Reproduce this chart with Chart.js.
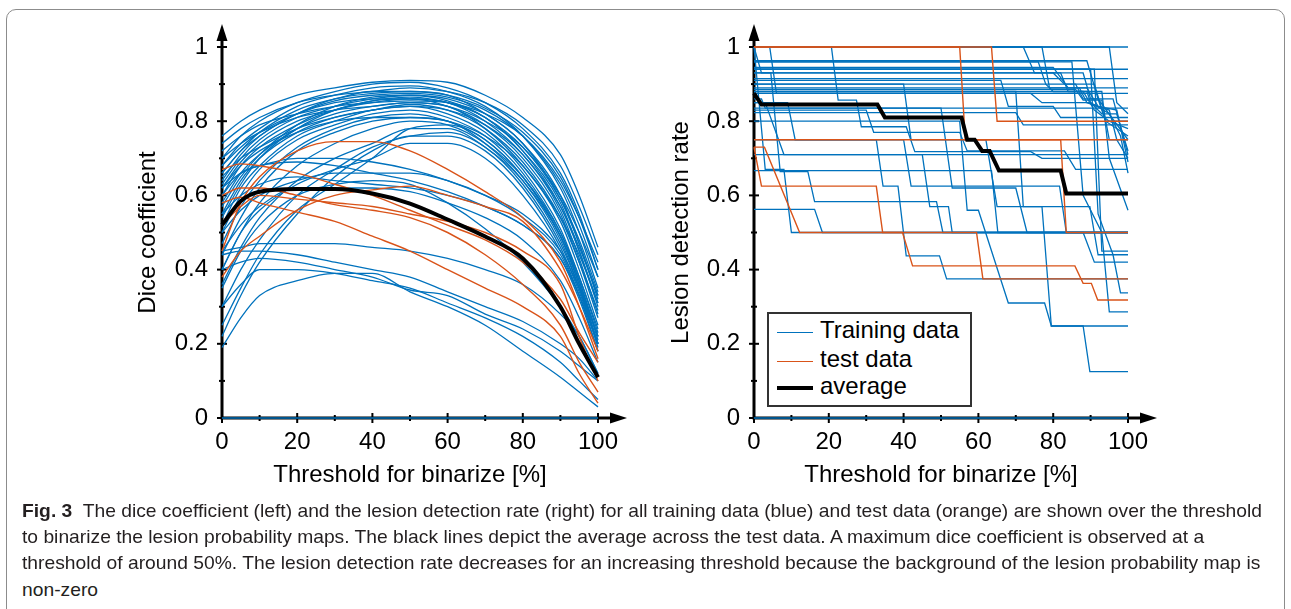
<!DOCTYPE html>
<html>
<head>
<meta charset="utf-8">
<script src="https://cdn.jsdelivr.net/npm/chart.js"></script>
<style>
body{margin:0;background:#fff;width:1291px;height:609px;overflow:hidden;position:relative;font-family:"Liberation Sans",Arial,sans-serif}
#frame{position:absolute;left:6px;top:9px;width:1277px;height:640px;border:1px solid #8c8c8c;border-radius:10px}
canvas{position:absolute;top:0}
#dice{left:110px}
#det{left:640px}
#legend{position:absolute;left:767px;top:312px;width:201px;height:91px;border:2px solid #333;background:#fff}
#legend .row{position:absolute;left:8px;height:28px;font-size:24px;line-height:28px;white-space:nowrap}
#legend .sw{position:absolute;left:0;width:36px}
#legend .tx{position:absolute;left:43px;top:-2px}
.cap{position:absolute;left:22px;white-space:nowrap;font-family:"Liberation Sans",Arial,sans-serif;font-size:19px;line-height:24px;color:#231f20;transform-origin:0 50%;display:inline-block}
</style>
</head>
<body>
<div id="frame"></div>
<canvas id="dice" width="540" height="500"></canvas>
<canvas id="det" width="540" height="500"></canvas>
<div id="legend">
  <div class="row" style="top:4px"><span class="sw" style="top:14px;border-top:1.5px solid #0072BD"></span><span class="tx">Training data</span></div>
  <div class="row" style="top:33px"><span class="sw" style="top:14px;border-top:1.5px solid #D95319"></span><span class="tx">test data</span></div>
  <div class="row" style="top:60px"><span class="sw" style="top:12px;border-top:4px solid #000"></span><span class="tx">average</span></div>
</div>
<div class="cap" id="cap1" style="top:499px"><b>Fig. 3</b>&nbsp; The dice coefficient (left) and the lesion detection rate (right) for all training data (blue) and test data (orange) are shown over the threshold</div>
<div class="cap" style="top:525px">to binarize the lesion probability maps. The black lines depict the average across the test data. A maximum dice coefficient is observed at a</div>
<div class="cap" style="top:551px">threshold of around 50%. The lesion detection rate decreases for an increasing threshold because the background of the lesion probability map is</div>
<div class="cap" style="top:578px">non-zero</div>
<script>
// thresholds (%) for the dice curves
const diceX = [0, 5, 10, 20, 30, 40, 50, 60, 70, 80, 90, 95, 100];

// dice coefficient, training data (blue)
const diceTrain = [
  [.76,.80,.83,.87,.89,.905,.91,.905,.87,.81,.71,.60,.46],
  [.70,.76,.80,.85,.88,.90,.905,.89,.85,.78,.66,.55,.40],
  [.68,.74,.78,.84,.87,.89,.895,.88,.84,.76,.62,.50,.35],
  [.66,.72,.77,.83,.86,.88,.88,.87,.82,.74,.60,.47,.32],
  [.63,.70,.75,.81,.84,.86,.87,.855,.81,.72,.58,.45,.30],
  [.62,.69,.74,.80,.83,.855,.86,.85,.80,.71,.56,.43,.28],
  [.60,.68,.73,.79,.83,.85,.86,.84,.79,.70,.55,.42,.27],
  [.58,.66,.71,.78,.82,.84,.85,.84,.78,.68,.53,.40,.25],
  [.65,.70,.73,.78,.81,.83,.84,.83,.79,.71,.57,.46,.33],
  [.55,.64,.70,.77,.81,.83,.845,.83,.78,.69,.54,.42,.29],
  [.52,.62,.68,.76,.80,.83,.84,.82,.77,.67,.51,.38,.24],
  [.50,.60,.67,.75,.79,.82,.83,.81,.76,.66,.50,.37,.22],
  [.47,.57,.64,.73,.78,.81,.82,.80,.75,.65,.49,.36,.20],
  [.44,.54,.62,.72,.77,.80,.81,.80,.74,.64,.48,.35,.19],
  [.70,.74,.77,.81,.83,.84,.85,.84,.80,.73,.60,.50,.38],
  [.72,.76,.79,.82,.84,.85,.855,.85,.82,.76,.64,.54,.42],
  [.62,.68,.72,.77,.80,.81,.81,.80,.76,.68,.54,.44,.31],
  [.40,.50,.58,.68,.74,.78,.80,.79,.74,.65,.50,.38,.23],
  [.36,.46,.54,.64,.70,.74,.78,.78,.73,.64,.49,.37,.21],
  [.30,.40,.48,.60,.67,.73,.76,.77,.73,.63,.47,.35,.20],
  [.25,.35,.44,.56,.63,.70,.78,.79,.75,.65,.49,.36,.22],
  [.22,.33,.42,.55,.65,.72,.76,.76,.72,.62,.46,.34,.20],
  [.66,.72,.76,.82,.855,.87,.875,.865,.83,.76,.63,.52,.38],
  [.64,.71,.76,.82,.86,.875,.88,.87,.835,.77,.65,.54,.40],
  [.57,.65,.71,.79,.84,.865,.87,.86,.82,.74,.59,.47,.33],
  [.54,.63,.70,.78,.83,.855,.865,.85,.81,.72,.57,.45,.31],
  [.68,.73,.77,.82,.85,.86,.86,.85,.81,.73,.59,.48,.34],
  [.74,.78,.81,.85,.87,.88,.89,.88,.85,.79,.68,.57,.44],
  [.62,.66,.68,.69,.68,.66,.64,.61,.57,.52,.43,.33,.20],
  [.60,.66,.68,.70,.70,.69,.67,.64,.60,.55,.45,.35,.22],
  [.55,.60,.63,.65,.64,.63,.62,.60,.57,.52,.43,.32,.18],
  [.50,.56,.60,.64,.66,.66,.66,.64,.60,.54,.44,.33,.20],
  [.45,.52,.57,.62,.62,.62,.61,.58,.54,.48,.37,.27,.15],
  [.35,.45,.52,.60,.63,.64,.63,.58,.51,.42,.30,.22,.12],
  [.40,.50,.56,.63,.67,.70,.74,.74,.70,.60,.45,.33,.18],
  [.45,.46,.47,.47,.47,.46,.45,.43,.40,.36,.28,.22,.12],
  [.40,.42,.43,.42,.40,.38,.345,.33,.28,.24,.18,.14,.10],
  [.44,.45,.45,.44,.42,.40,.38,.34,.30,.26,.20,.16,.10],
  [.19,.27,.33,.37,.39,.39,.34,.30,.25,.18,.11,.07,.03],
  [.30,.36,.40,.40,.39,.37,.35,.31,.27,.22,.15,.10,.05],
  [0,0,0,0,0,0,0,0,0,0,0,0,0]
];

// dice coefficient, test data (orange)
const diceTest = [
  [.45,.58,.65,.72,.745,.745,.72,.67,.61,.54,.42,.30,.16],
  [.67,.685,.68,.66,.63,.60,.56,.52,.48,.42,.32,.23,.15],
  [.58,.595,.58,.555,.53,.49,.45,.40,.35,.30,.22,.12,.04],
  [.38,.45,.49,.56,.60,.615,.625,.60,.57,.53,.40,.30,.18],
  [.52,.57,.60,.59,.58,.57,.55,.53,.50,.45,.36,.22,.10],
  [.60,.62,.62,.60,.575,.56,.54,.50,.44,.36,.25,.15,.07]
];

// dice coefficient, average (black)
const diceAvg = [.52,.585,.61,.617,.617,.605,.578,.535,.489,.43,.30,.20,.11];

// lesion detection rate, [threshold, rate] points, training data (blue)
const detTrain = [
  [[0,1],[100,1]],
  [[0,1],[72,1],[75,.93],[88,.93],[90,.86],[96,.86],[100,.71]],
  [[0,1],[2,.93],[80,.93],[83,.9],[91,.9],[94,.8],[100,.8]],
  [[0,1],[4.2,1],[6,.875],[74,.875],[77,.85],[90,.85],[93,.82],[97,.82],[100,.72]],
  [[0,1],[20.7,1],[22.5,.857],[27.4,.857],[28.7,.785],[40.7,.785],[43,.718],[74,.718],[77,.7],[100,.7]],
  [[0,1],[77,1],[79,.89],[87,.89],[89,.85],[95,.83],[97,.75],[100,.7]],
  [[0,1],[95,1],[97,.85],[100,.82]],
  [[0,1],[3,.67],[8,.67],[10,.5],[100,.5]],
  [[0,.963],[89,.963],[92,.86],[100,.75]],
  [[0,.96],[76,.96],[78,.9],[86,.9],[88,.86],[92,.86],[94,.8],[100,.76]],
  [[0,.945],[80,.945],[84,.89],[89,.89],[92,.84],[97,.83],[100,.69]],
  [[0,.94],[100,.94]],
  [[0,.94],[91,.94],[93,.45],[100,.45]],
  [[0,.93],[82,.93],[84,.88],[89,.88],[90,.85],[95,.82],[98,.76],[100,.66]],
  [[0,.915],[100,.915]],
  [[0,.91],[66,.91],[68,.84],[80,.84],[82,.81],[100,.81]],
  [[0,.9],[78,.9],[80,.88],[88,.88],[91,.83],[95,.8],[100,.78]],
  [[0,.89],[100,.89]],
  [[0,.886],[86,.886],[88,.857],[93,.857],[95,.75],[100,.75]],
  [[0,.88],[93,.88],[95,.7],[100,.56]],
  [[0,.875],[100,.875]],
  [[0,.86],[2,.86],[3,.835],[100,.835]],
  [[0,.823],[70,.823],[72,.79],[100,.79]],
  [[0,.83],[30,.83],[32,.77],[55,.77],[57,.72],[83,.72],[86,.67],[100,.67]],
  [[0,.85],[3,.85],[8,.71],[100,.71]],
  [[0,.667],[63.5,.667],[65.2,.5],[100,.5]],
  [[0,.5625],[16.2,.5625],[18.3,.5],[100,.5]],
  [[0,.93],[4.5,.93],[7,.664],[14.4,.664],[16.2,.583],[48.8,.583],[50.5,.5],[100,.5]],
  [[0,.85],[9,.85],[11,.75],[40,.75],[42,.625],[81.7,.625],[83.5,.5],[100,.5]],
  [[0,.75],[32.7,.75],[34.5,.625],[38.5,.625],[40.7,.437],[49.6,.437],[51.5,.375],[100,.375]],
  [[0,.71],[45,.71],[47,.57],[52,.57],[53,.5],[100,.5]],
  [[0,.9],[40,.9],[42,.75],[62,.75],[65,.57],[89.8,.57],[92,.44],[100,.44]],
  [[0,.8],[55,.8],[57,.56],[60,.56],[68,.31],[77.7,.31],[79.5,.248],[88,.248],[89.8,.125],[100,.125]],
  [[0,.88],[70,.88],[72,.57],[77,.57],[79.5,.248],[100,.248]],
  [[0,.94],[90,.94],[92,.55],[96,.44],[98,.337],[100,.337]],
  [[0,.96],[85,.96],[88,.6],[93,.5],[95,.286],[100,.286]],
  [[0,.835],[50,.835],[53,.62],[70,.62],[73,.5],[88,.5],[91,.42],[100,.42]],
  [[0,0],[100,0]]
];

// lesion detection rate, test data (orange)
const detTest = [
  [[0,1],[55,1],[56.5,.75],[100,.75]],
  [[0,1],[63.5,1],[65,.8],[100,.8]],
  [[0,.75],[82,.75],[83.5,.5],[100,.5]],
  [[0,.73],[2,.625],[32.7,.625],[34.4,.5],[59.5,.5],[61.2,.375],[100,.375]],
  [[0,.73],[2.8,.73],[12.2,.5],[39.7,.5],[42.4,.41],[85.8,.41],[88,.363],[90.2,.363],[91.9,.318],[100,.318]]
];

// lesion detection rate, average (black)
const detAvg = [[0,.875],[2,.845],[33,.845],[35,.81],[55.5,.81],[57,.75],[59,.75],[61,.72],[63,.72],[65.5,.667],[82,.667],[83.5,.605],[100,.605]];

const xTicks = [0, 20, 40, 60, 80, 100];
const yTicks = ['0', '0.2', '0.4', '0.6', '0.8', '1'];

const BLUE = '#0072BD', ORANGE = '#D95319';
Chart.defaults.font.family = '"Liberation Sans", Arial, sans-serif';
Chart.defaults.font.size = 24;
Chart.defaults.color = '#000';

// black axes with arrow heads and major/minor ticks
const axisArrows = {
  id: 'axisArrows',
  beforeDatasetsDraw(chart) {
    const {ctx, chartArea: a, scales: {x, y}} = chart;
    ctx.save();
    ctx.strokeStyle = '#000';
    ctx.fillStyle = '#000';
    ctx.lineWidth = 3;
    ctx.beginPath();
    ctx.moveTo(a.left, a.bottom + 1.5); ctx.lineTo(a.left, a.top - 10);
    ctx.moveTo(a.left - 1.5, a.bottom); ctx.lineTo(a.right + 15, a.bottom);
    ctx.stroke();
    ctx.beginPath();
    ctx.moveTo(a.left, a.top - 23); ctx.lineTo(a.left - 5.5, a.top - 6); ctx.lineTo(a.left + 5.5, a.top - 6);
    ctx.fill();
    ctx.beginPath();
    ctx.moveTo(a.right + 29, a.bottom); ctx.lineTo(a.right + 12, a.bottom - 5.5); ctx.lineTo(a.right + 12, a.bottom + 5.5);
    ctx.fill();
    ctx.lineWidth = 2;
    x.ticks.forEach(t => {
      const p = x.getPixelForValue(t.value);
      const L = Math.round(t.value) % 20 === 0 ? 5 : 3;
      ctx.beginPath(); ctx.moveTo(p, a.bottom - L); ctx.lineTo(p, a.bottom + L); ctx.stroke();
    });
    y.ticks.forEach(t => {
      const p = y.getPixelForValue(t.value);
      const L = Math.round(t.value * 10) % 2 === 0 ? 5 : 3;
      ctx.beginPath(); ctx.moveTo(a.left - L, p); ctx.lineTo(a.left + L, p); ctx.stroke();
    });
    ctx.restore();
  }
};

function makeOptions(yTitle, yWidth, titlePad) {
  return {
    responsive: false,
    animation: false,
    layout: {padding: {left: 0, right: 52, top: 47, bottom: 0}},
    plugins: {legend: {display: false}, tooltip: {enabled: false}},
    elements: {point: {radius: 0}},
    scales: {
      x: {
        type: 'linear', min: 0, max: 100,
        grid: {display: false, drawTicks: false}, border: {display: false},
        ticks: {stepSize: 10, padding: 10, maxRotation: 0, autoSkip: false,
          callback: v => xTicks.includes(Math.round(v)) ? String(Math.round(v)) : ''},
        title: {display: true, text: 'Threshold for binarize [%]', padding: {top: 0, bottom: 10}},
        afterFit: s => { s.height = 82; }
      },
      y: {
        min: 0, max: 1,
        grid: {display: false, drawTicks: false}, border: {display: false},
        ticks: {stepSize: 0.1, padding: 14, autoSkip: false,
          callback: v => { const k = Math.round(v * 10); return k % 2 === 0 ? yTicks[k / 2] : ''; }},
        title: {display: true, text: yTitle, padding: {top: titlePad, bottom: 0}},
        afterFit: s => { s.width = yWidth; }
      }
    }
  };
}

function line(points, color, width, tension) {
  return {data: points, borderColor: color, borderWidth: width, tension: tension,
    cubicInterpolationMode: tension ? 'monotone' : 'default', clip: false, pointRadius: 0};
}

const toPts = ys => ys.map((v, i) => ({x: diceX[i], y: v}));
const pairs = arr => arr.map(p => ({x: p[0], y: p[1]}));

// first dataset is drawn on top
const diceSets = [line(toPts(diceAvg), '#000', 4, 0.4)]
  .concat(diceTest.map(s => line(toPts(s), ORANGE, 1.4, 0.4)))
  .concat(diceTrain.map(s => line(toPts(s), BLUE, 1.3, 0.4)));

new Chart(document.getElementById('dice'), {
  type: 'line',
  data: {datasets: diceSets},
  options: makeOptions('Dice coefficient', 112, 24),
  plugins: [axisArrows]
});

const detSets = [line(pairs(detAvg), '#000', 4, 0)]
  .concat(detTest.map(s => line(pairs(s), ORANGE, 1.4, 0)))
  .concat(detTrain.map(s => line(pairs(s), BLUE, 1.3, 0)));

new Chart(document.getElementById('det'), {
  type: 'line',
  data: {datasets: detSets},
  options: makeOptions('Lesion detection rate', 114, 27),
  plugins: [axisArrows]
});

// condense the caption: one horizontal scale so that the first line spans 1240px
document.fonts.ready.then(() => {
  const s = 1240 / document.getElementById('cap1').getBoundingClientRect().width;
  document.querySelectorAll('.cap').forEach(el => {
    el.style.transform = 'scaleX(' + s + ')';
  });
});
</script>
</body>
</html>
